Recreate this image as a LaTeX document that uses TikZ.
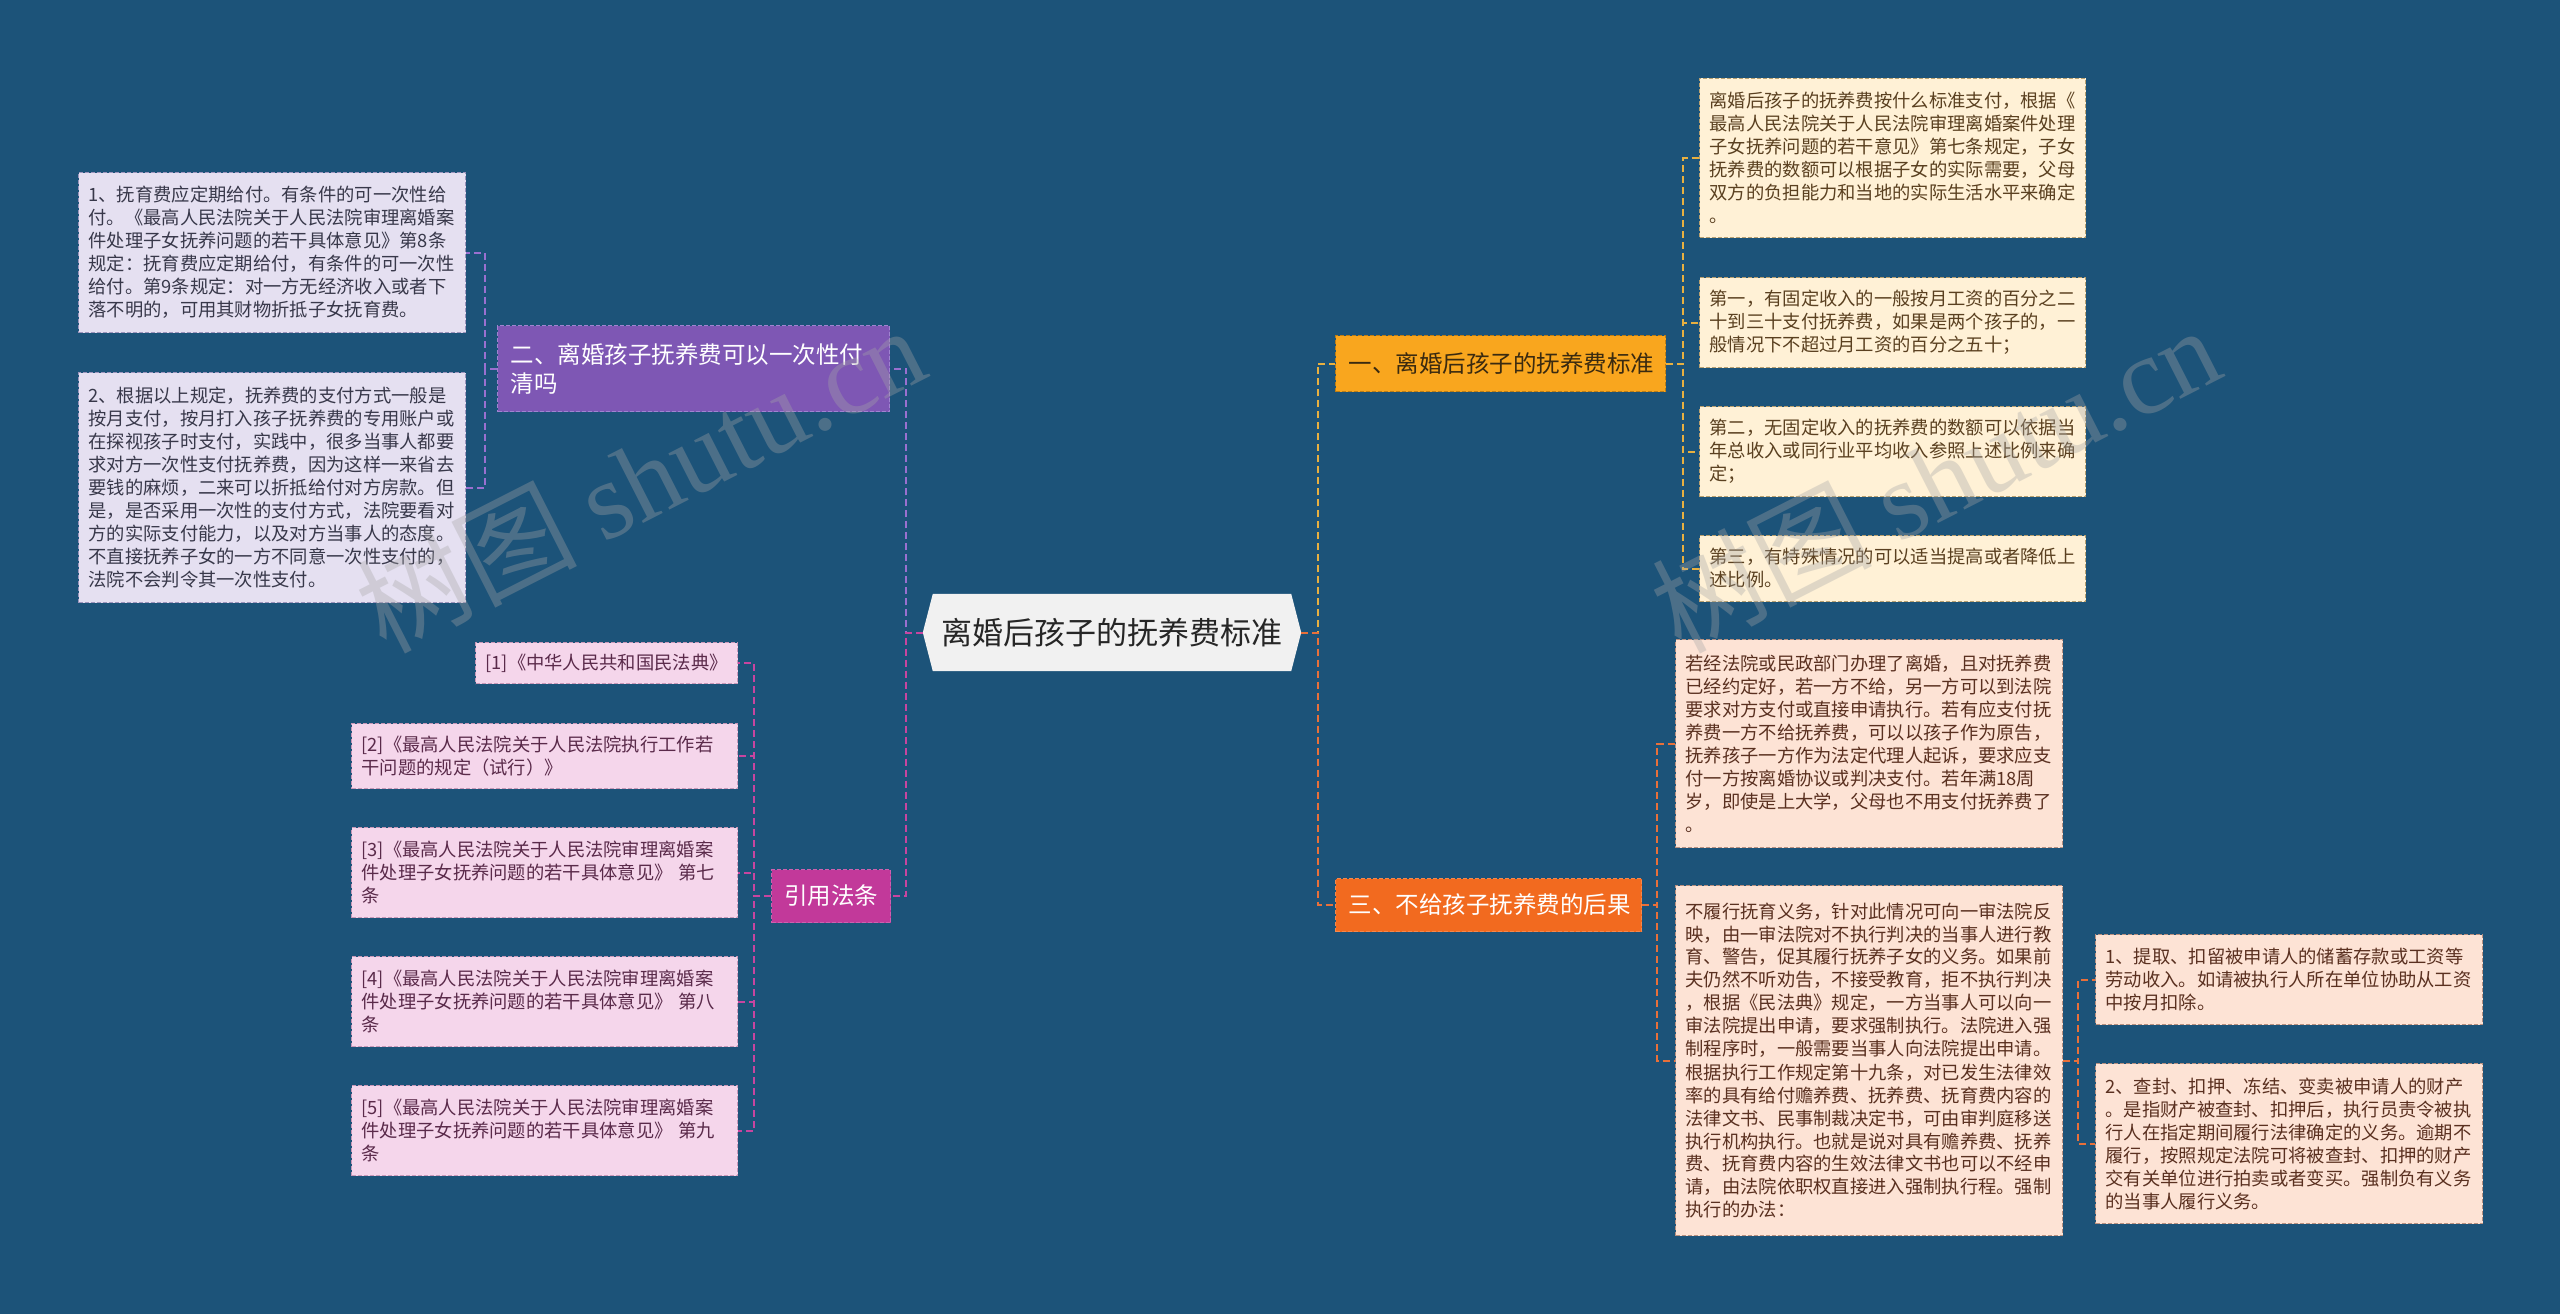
\documentclass[tikz,border=0pt]{standalone}
\usepackage{fontspec}
\setmainfont{Noto Sans CJK SC}
\newfontfamily\wmlat{Liberation Serif}
\usetikzlibrary{calc}
\pgfdeclarelayer{bg}
\pgfsetlayers{bg,main}
\definecolor{bgc}{HTML}{1C5379}
\definecolor{lavfill}{HTML}{E5E0F1}
\definecolor{lavdraw}{HTML}{9C94BC}
\definecolor{lavtext}{HTML}{38384A}
\definecolor{reffill}{HTML}{F5D6EB}
\definecolor{refdraw}{HTML}{C898B8}
\definecolor{reftext}{HTML}{5A2A4A}
\definecolor{crefill}{HTML}{FFF1D6}
\definecolor{credraw}{HTML}{B8A070}
\definecolor{cretext}{HTML}{5A4020}
\definecolor{peafill}{HTML}{FDE3D5}
\definecolor{peadraw}{HTML}{B89080}
\definecolor{peatext}{HTML}{5A3020}
\definecolor{purfill}{HTML}{7E57B4}
\definecolor{purdraw}{HTML}{A084D0}
\definecolor{yinfill}{HTML}{C2399A}
\definecolor{onefill}{HTML}{F9A61E}
\definecolor{onetext}{HTML}{3A2A10}
\definecolor{thrfill}{HTML}{F26A1F}
\definecolor{cenfill}{HTML}{F1F1F1}
\definecolor{purline}{HTML}{9A70D0}
\definecolor{yinline}{HTML}{C845A0}
\definecolor{oneline}{HTML}{E8B040}
\definecolor{thrline}{HTML}{E8703A}
\tikzset{
  boxbase/.style={rectangle, anchor=north west, line width=1pt, dash pattern=on 4pt off 2pt,
    inner xsep=10pt, inner ysep=0pt, align=left, font=\fontsize{18.3}{23}\selectfont},
  lavbox/.style={boxbase, fill=lavfill, draw=lavdraw, text=lavtext},
  refbox/.style={boxbase, fill=reffill, draw=refdraw, text=reftext},
  crebox/.style={boxbase, fill=crefill, draw=credraw, text=cretext},
  peabox/.style={boxbase, fill=peafill, draw=peadraw, text=peatext},
  topic/.style={rectangle, anchor=north west, line width=1pt, dash pattern=on 4pt off 2pt,
    inner xsep=13pt, inner ysep=0pt, align=left, font=\fontsize{23.5}{29}\selectfont},
  conn/.style={line width=2pt, dash pattern=on 7pt off 4pt},
  wm/.style={text=gray!70, opacity=0.35, font=\fontsize{110}{120}\selectfont}
}
\begin{document}
\begin{tikzpicture}[x=1pt,y=-1pt]
\begin{pgfonlayer}{bg}
\fill[bgc] (0,0) rectangle (2560,1314);
\end{pgfonlayer}
\useasboundingbox (0,0) rectangle (2560,1314);

% spine coordinates
\coordinate (scl) at (906,0);
\coordinate (scr) at (1318,0);
\coordinate (spl) at (485,0);
\coordinate (syl) at (754,0);
\coordinate (sor) at (1683,0);
\coordinate (str) at (1657,0);
\coordinate (sfr) at (2078,0);

% centre
\node[minimum width=378pt, minimum height=77pt, inner sep=0pt, text=black!85,
  font=\fontsize{31}{36}\selectfont] (c) at (1112,632.5) {离婚后孩子的抚养费标准};
\begin{pgfonlayer}{bg}
\fill[cenfill] ([xshift=10pt]c.north west) -- ([xshift=-10pt]c.north east) -- (c.east)
  -- ([xshift=-10pt]c.south east) -- ([xshift=10pt]c.south west) -- (c.west) -- cycle;
\end{pgfonlayer}

% left branch: purple topic
\node[topic, fill=purfill, draw=purdraw, text=white, text width=366pt, minimum height=86pt] (pur) at (497,325)
  {二、离婚孩子抚养费可以一次性付\\清吗};
\node[lavbox, text width=367pt, minimum height=160pt] (l1) at (78,172)
  {1、抚育费应定期给付。有条件的可一次性给\\付。《最高人民法院关于人民法院审理离婚案\\件处理子女抚养问题的若干具体意见》第8条\\规定：抚育费应定期给付，有条件的可一次性\\给付。第9条规定：对一方无经济收入或者下\\落不明的，可用其财物折抵子女抚育费。};
\node[lavbox, text width=367pt, minimum height=230pt] (l2) at (78,372)
  {2、根据以上规定，抚养费的支付方式一般是\\按月支付，按月打入孩子抚养费的专用账户或\\在探视孩子时支付，实践中，很多当事人都要\\求对方一次性支付抚养费，因为这样一来省去\\要钱的麻烦，二来可以折抵给付对方房款。但\\是，是否采用一次性的支付方式，法院要看对\\方的实际支付能力，以及对方当事人的态度。\\不直接抚养子女的一方不同意一次性支付的，\\法院不会判令其一次性支付。};

% left branch: references
\node[topic, fill=yinfill, draw=yinfill!80!white, text=white, inner xsep=0pt, text width=119pt, align=center, minimum height=53pt] (yin) at (771,869) {引用法条};
\node[refbox, text width=242pt, minimum height=41pt] (r1) at (475,642) {[1]《中华人民共和国民法典》};
\node[refbox, text width=366pt, minimum height=65pt] (r2) at (351,723) {[2]《最高人民法院关于人民法院执行工作若\\干问题的规定（试行）》};
\node[refbox, text width=366pt, minimum height=90pt] (r3) at (351,827) {[3]《最高人民法院关于人民法院审理离婚案\\件处理子女抚养问题的若干具体意见》 第七\\条};
\node[refbox, text width=366pt, minimum height=90pt] (r4) at (351,956) {[4]《最高人民法院关于人民法院审理离婚案\\件处理子女抚养问题的若干具体意见》 第八\\条};
\node[refbox, text width=366pt, minimum height=90pt] (r5) at (351,1085) {[5]《最高人民法院关于人民法院审理离婚案\\件处理子女抚养问题的若干具体意见》 第九\\条};

% right branch: one
\node[topic, fill=onefill, draw=onefill!75!black, text=onetext, text width=304pt, minimum height=56pt] (one) at (1335,335) {一、离婚后孩子的抚养费标准};
\node[crebox, text width=366pt, minimum height=159pt] (a) at (1699,78)
  {离婚后孩子的抚养费按什么标准支付，根据《\\最高人民法院关于人民法院审理离婚案件处理\\子女抚养问题的若干意见》第七条规定，子女\\抚养费的数额可以根据子女的实际需要，父母\\双方的负担能力和当地的实际生活水平来确定\\。};
\node[crebox, text width=366pt, minimum height=90pt] (b) at (1699,277)
  {第一，有固定收入的一般按月工资的百分之二\\十到三十支付抚养费，如果是两个孩子的，一\\般情况下不超过月工资的百分之五十；};
\node[crebox, text width=366pt, minimum height=90pt] (cc) at (1699,406)
  {第二，无固定收入的抚养费的数额可以依据当\\年总收入或同行业平均收入参照上述比例来确\\定；};
\node[crebox, text width=366pt, minimum height=66pt] (d) at (1699,535)
  {第三，有特殊情况的可以适当提高或者降低上\\述比例。};

% right branch: three
\node[topic, fill=thrfill, draw=thrfill!80!white, text=white, text width=280pt, minimum height=53pt] (thr) at (1335,878) {三、不给孩子抚养费的后果};
\node[peabox, text width=367pt, minimum height=208pt] (e) at (1675,639)
  {若经法院或民政部门办理了离婚，且对抚养费\\已经约定好，若一方不给，另一方可以到法院\\要求对方支付或直接申请执行。若有应支付抚\\养费一方不给抚养费，可以以孩子作为原告，\\抚养孩子一方作为法定代理人起诉，要求应支\\付一方按离婚协议或判决支付。若年满18周\\岁，即使是上大学，父母也不用支付抚养费了\\。};
\node[peabox, text width=367pt, minimum height=350pt] (f) at (1675,885)
  {不履行抚育义务，针对此情况可向一审法院反\\映，由一审法院对不执行判决的当事人进行教\\育、警告，促其履行抚养子女的义务。如果前\\夫仍然不听劝告，不接受教育，拒不执行判决\\，根据《民法典》规定，一方当事人可以向一\\审法院提出申请，要求强制执行。法院进入强\\制程序时，一般需要当事人向法院提出申请。\\根据执行工作规定第十九条，对已发生法律效\\率的具有给付赡养费、抚养费、抚育费内容的\\法律文书、民事制裁决定书，可由审判庭移送\\执行机构执行。也就是说对具有赡养费、抚养\\费、抚育费内容的生效法律文书也可以不经申\\请，由法院依职权直接进入强制执行程。强制\\执行的办法：};
\node[peabox, text width=367pt, minimum height=90pt] (g) at (2095,934)
  {1、提取、扣留被申请人的储蓄存款或工资等\\劳动收入。如请被执行人所在单位协助从工资\\中按月扣除。};
\node[peabox, text width=367pt, minimum height=160pt] (h) at (2095,1063)
  {2、查封、扣押、冻结、变卖被申请人的财产\\。是指财产被查封、扣押后，执行员责令被执\\行人在指定期间履行法律确定的义务。逾期不\\履行，按照规定法院可将被查封、扣押的财产\\交有关单位进行拍卖或者变买。强制负有义务\\的当事人履行义务。};

% connectors
\draw[conn, purline] (c.west) -- (c.west -| scl) |- (pur.east);
\draw[conn, yinline] (c.west) -- (c.west -| scl) |- (yin.east);
\draw[conn, purline] (pur.west) -- (pur.west -| spl) |- (l1.east);
\draw[conn, purline] (pur.west) -- (pur.west -| spl) |- (l2.east);
\foreach \r in {r1,r2,r3,r4,r5}
  \draw[conn, yinline] (yin.west) -- (yin.west -| syl) |- (\r.east);
\draw[conn, oneline] (c.east) -- (c.east -| scr) |- (one.west);
\draw[conn, thrline] (c.east) -- (c.east -| scr) |- (thr.west);
\foreach \r in {a,b,cc,d}
  \draw[conn, oneline] (one.east) -- (one.east -| sor) |- (\r.west);
\foreach \r in {e,f}
  \draw[conn, thrline] (thr.east) -- (thr.east -| str) |- (\r.west);
\foreach \r in {g,h}
  \draw[conn, thrline] (f.east) -- (f.east -| sfr) |- (\r.west);

% watermarks
\node[wm, rotate=27] (wm1) at (640,478) {树图 {\wmlat shutu.cn}};
\node[wm, rotate=27] (wm2) at (1935,478) {树图 {\wmlat shutu.cn}};
\end{tikzpicture}
\end{document}
